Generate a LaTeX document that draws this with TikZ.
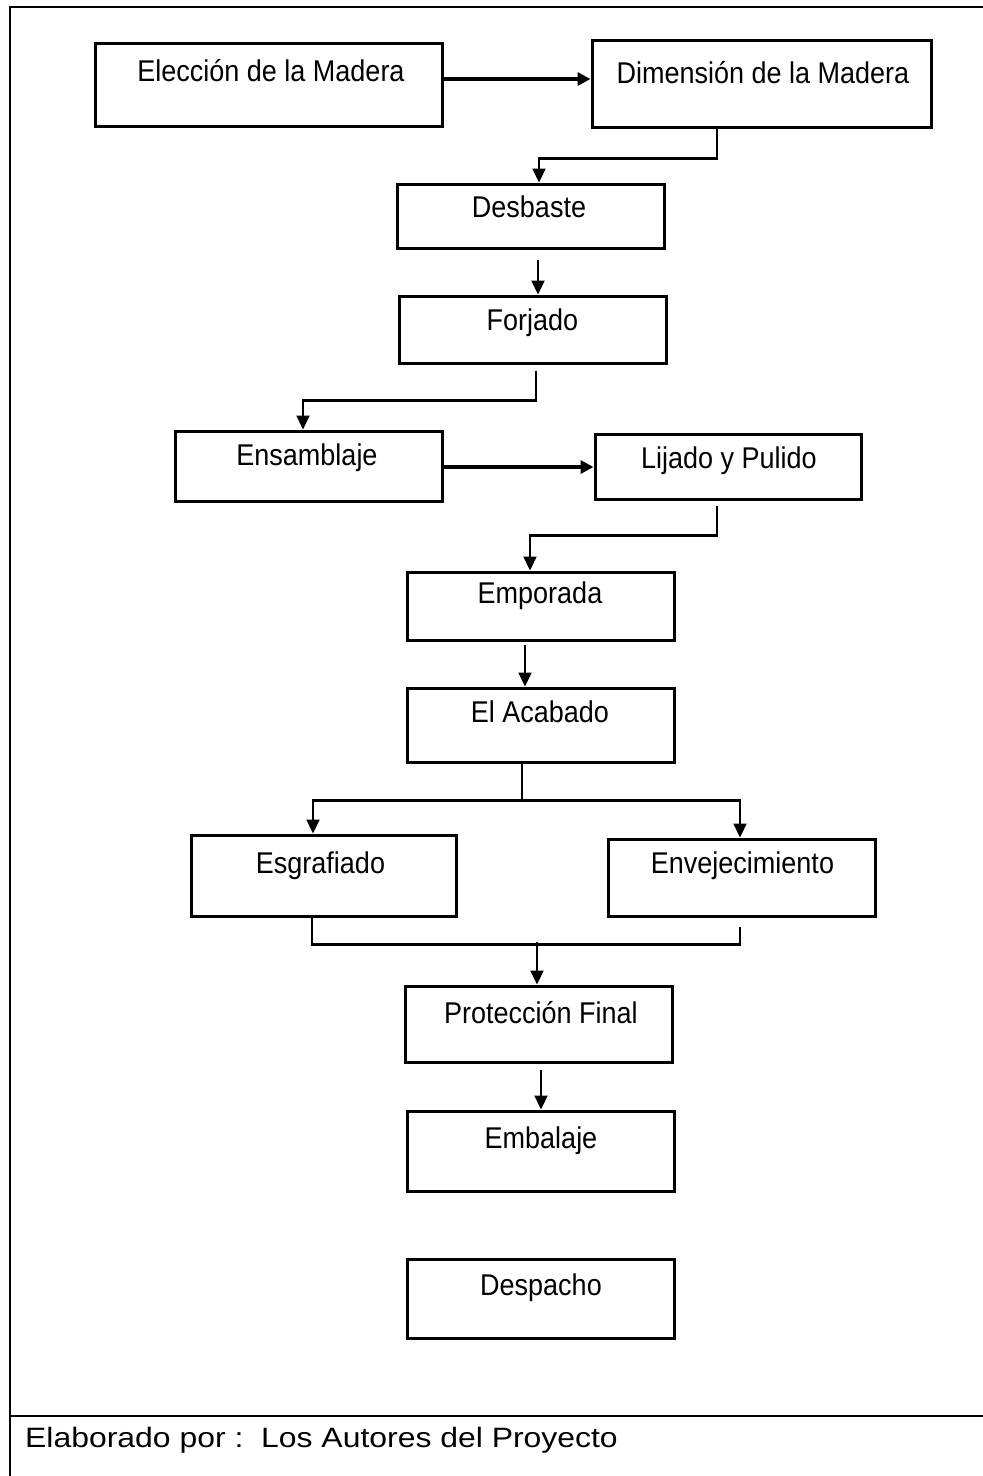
\documentclass[tikz,border=0pt]{standalone}
\usepackage{fontspec}
\setmainfont{Liberation Sans}
\newfontfamily\boxfont[FakeStretch=0.9]{Liberation Sans}
\newfontfamily\notefont[FakeStretch=1.14]{Liberation Sans}
\usetikzlibrary{arrows.meta}

\begin{document}
\begin{tikzpicture}[x=1pt,y=1pt,
  stagebox/.style={draw, line width=3pt, inner sep=0pt},
  lbl/.style={anchor=base, inner sep=0pt, font=\boxfont\fontsize{30}{36}\selectfont},
  plain/.style={line width=2.2pt},
  link/.style={line width=2.2pt, -{Triangle[width=13pt,length=14pt]}},
  boldlink/.style={line width=3.5pt, -{Triangle[width=13pt,length=13pt]}},
  frameline/.style={line width=2pt}]

\useasboundingbox (0,0) rectangle (983,-1476);

% outer frame and footer rule
\draw[frameline] (983,-7) -- (10,-7) -- (10,-1476);
\draw[frameline] (10,-1416) -- (983,-1416);

% process stages
\node[stagebox, minimum width=347pt, minimum height=83pt] (b1)  at (268.5,-84.5)  {};
\node[stagebox, minimum width=339pt, minimum height=87pt] (b2)  at (761.5,-83.5)  {};
\node[stagebox, minimum width=267pt, minimum height=64pt] (b3)  at (530.5,-216)   {};
\node[stagebox, minimum width=267pt, minimum height=67pt] (b4)  at (532.5,-329.5) {};
\node[stagebox, minimum width=267pt, minimum height=70pt] (b5)  at (308.5,-466)   {};
\node[stagebox, minimum width=266pt, minimum height=65pt] (b6)  at (728,-466.5)   {};
\node[stagebox, minimum width=267pt, minimum height=68pt] (b7)  at (540.5,-606)   {};
\node[stagebox, minimum width=267pt, minimum height=74pt] (b8)  at (540.5,-725)   {};
\node[stagebox, minimum width=265pt, minimum height=81pt] (b9)  at (323.5,-875.5) {};
\node[stagebox, minimum width=267pt, minimum height=77pt] (b10) at (741.5,-877.5) {};
\node[stagebox, minimum width=267pt, minimum height=76pt] (b11) at (538.5,-1024)  {};
\node[stagebox, minimum width=267pt, minimum height=80pt] (b12) at (540.5,-1151)  {};
\node[stagebox, minimum width=267pt, minimum height=79pt] (b13) at (540.5,-1298.5){};

% stage titles
\node[lbl] (t1)  at (271,-81)    {Elección de la Madera};
\node[lbl] (t2)  at (763,-83)    {Dimensión de la Madera};
\node[lbl] (t3)  at (529,-217)   {Desbaste};
\node[lbl] (t4)  at (532.5,-330) {Forjado};
\node[lbl] (t5)  at (307,-465)   {Ensamblaje};
\node[lbl] (t6)  at (729,-468)   {Lijado y Pulido};
\node[lbl] (t7)  at (540,-603)   {Emporada};
\node[lbl] (t8)  at (540,-722)   {El Acabado};
\node[lbl] (t9)  at (320.5,-873) {Esgrafiado};
\node[lbl] (t10) at (742.5,-873) {Envejecimiento};
\node[lbl] (t11) at (541,-1023)  {Protección Final};
\node[lbl] (t12) at (541,-1148)  {Embalaje};
\node[lbl] (t13) at (541,-1295)  {Despacho};

% connectors
\draw[boldlink] ([yshift=5.5pt]b1.east) -- ([yshift=4.5pt]b2.west);
\draw[link] ([xshift=-44.5pt]b2.south) -- ++(0,-30) -| ([xshift=8.5pt]b3.north);
\draw[link] ([xshift=7.5pt,yshift=-10pt]b3.south) -- ([xshift=5.5pt]b4.north);
\draw[link] ([xshift=3.5pt,yshift=-6pt]b4.south) -- ++(0,-30) -| ([xshift=-5.5pt]b5.north);
\draw[boldlink] ([yshift=-1pt]b5.east) -- ([yshift=-0.5pt]b6.west);
\draw[link] ([xshift=-11pt,yshift=-5pt]b6.south) -- ++(0,-30) -| ([xshift=-10.5pt]b7.north);
\draw[link] ([xshift=-15.5pt,yshift=-3pt]b7.south) -- ([xshift=-15.5pt]b8.north);

% split after the finishing stage
\draw[plain] ([xshift=-18.5pt]b8.south) -- ++(0,-37) coordinate (fork);
\draw[link] (fork) -| ([xshift=-10.5pt]b9.north);
\draw[link] (fork) -| ([xshift=-1.5pt]b10.north);

% merge before the final protection
\draw[plain] ([xshift=-11.5pt]b9.south) |- ([xshift=-1.5pt,yshift=-27pt]b10.south)
  -- ([xshift=-1.5pt,yshift=-9pt]b10.south);
\coordinate (merge) at ([xshift=-1.5pt,yshift=43pt]b11.north);
\draw[link] (merge) -- ([xshift=-1.5pt]b11.north);

\draw[link] ([xshift=2.5pt,yshift=-6pt]b11.south) -- ([xshift=0.5pt]b12.north);

% footer
\node[anchor=base west, inner sep=0pt, font=\notefont\fontsize{28}{34}\selectfont] (credit)
  at (25,-1447) {Elaborado por :\ \ Los Autores del Proyecto};

\end{tikzpicture}
\end{document}
